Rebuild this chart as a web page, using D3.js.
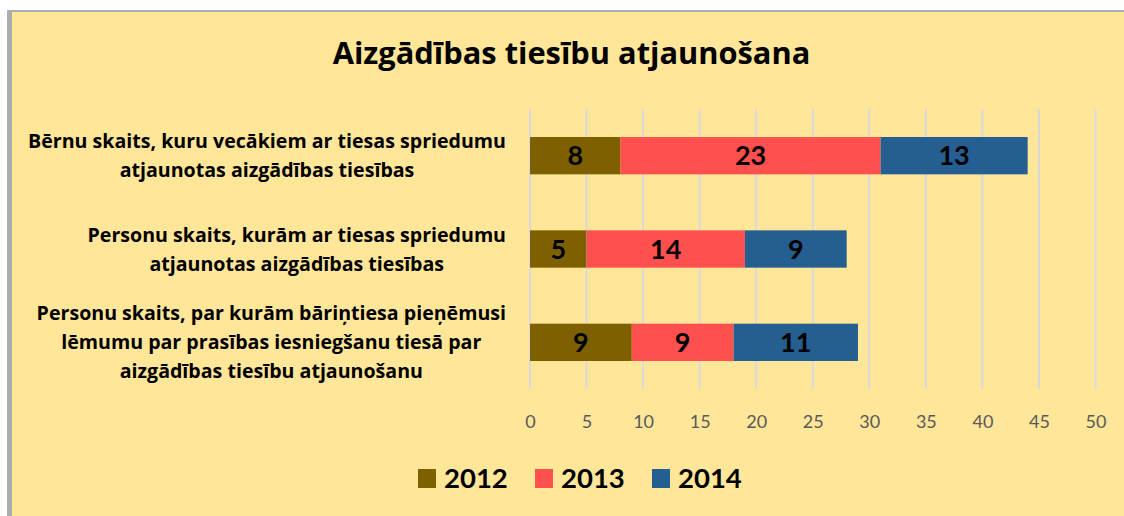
<!DOCTYPE html>
<html>
<head>
<meta charset="utf-8">
<script src="https://cdn.jsdelivr.net/npm/d3@7"></script>
<style>
  html, body { margin: 0; padding: 0; background: #ffffff; }
  svg { display: block; }
</style>
</head>
<body>
<script>
const title = "Aizgādības tiesību atjaunošana";
const categories = [
  ["Bērnu skaits, kuru vecākiem ar tiesas spriedumu", "atjaunotas aizgādības tiesības"],
  ["Personu skaits, kurām ar tiesas spriedumu", "atjaunotas aizgādības tiesības"],
  ["Personu skaits, par kurām bāriņtiesa pieņēmusi", "lēmumu par prasības iesniegšanu tiesā par", "aizgādības tiesību atjaunošanu"]
];
const seriesNames = ["2012", "2013", "2014"];
const values2012 = [8, 5, 9];
const values2013 = [23, 14, 9];
const values2014 = [13, 9, 11];
const xTicks = [0, 5, 10, 15, 20, 25, 30, 35, 40, 45, 50];
const colors = ["#7f6000", "#ff5050", "#255e91"];

const W = 1124, H = 516;
const font = "Lato, 'Open Sans', sans-serif";
const font2 = "'Open Sans', Lato, sans-serif";
const svg = d3.select("body").append("svg").attr("width", W).attr("height", H);

// frame
svg.append("rect").attr("x", 7).attr("y", 10).attr("width", W - 7).attr("height", H - 10).attr("fill", "#adadad");
svg.append("rect").attr("x", 12).attr("y", 12).attr("width", W - 12).attr("height", H - 12).attr("fill", "#ffe699");

svg.append("text").attr("x", 571.5).attr("y", 64).attr("text-anchor", "middle")
  .attr("font-family", font2).attr("font-weight", 700).attr("font-size", 30.8).attr("fill", "#000")
  .text(title);

const x = d3.scaleLinear().domain([0, 50]).range([530, 1095.5]);
const y = d3.scaleBand().domain(d3.range(categories.length)).range([109, 389]).paddingInner(0.6).paddingOuter(0.3);

// gridlines
svg.append("g").selectAll("line").data(xTicks).join("line")
  .attr("x1", d => x(d)).attr("x2", d => x(d)).attr("y1", 109).attr("y2", 389)
  .attr("stroke", "#d9d9d9").attr("stroke-width", 2);

// axis labels
const axis = d3.axisBottom(x).tickValues(xTicks).tickSize(0).tickPadding(0);
const ag = svg.append("g").attr("transform", "translate(0,428)").call(axis);
ag.select(".domain").remove();
ag.selectAll("text").attr("font-family", font).attr("font-size", 18).attr("fill", "#595959").attr("dy", 0);

const series = [values2012, values2013, values2014];
const stacked = categories.map((c, i) => {
  let acc = 0;
  return series.map((s, k) => { const d = {i, k, v: s[i], x0: acc, x1: acc + s[i]}; acc += s[i]; return d; });
}).flat();

const bars = svg.append("g");
bars.selectAll("rect").data(stacked).join("rect")
  .attr("x", d => x(d.x0)).attr("width", d => x(d.x1) - x(d.x0))
  .attr("y", d => y(d.i)).attr("height", y.bandwidth())
  .attr("fill", d => colors[d.k]);
bars.selectAll("text").data(stacked).join("text")
  .attr("x", d => (x(d.x0) + x(d.x1)) / 2).attr("y", d => y(d.i) + y.bandwidth() / 2)
  .attr("dy", "0.36em").attr("text-anchor", "middle")
  .attr("font-family", font).attr("font-weight", 700).attr("font-size", 27).attr("fill", "#000")
  .text(d => d.v);

// category labels
const lh = 29;
categories.forEach((lines, i) => {
  const g = svg.append("g");
  const cy = y(i) + y.bandwidth() / 2;
  const t = g.selectAll("text").data(lines).join("text")
    .attr("y", (d, j) => cy + (j - (lines.length - 1) / 2) * lh)
    .attr("dy", "0.36em").attr("text-anchor", "middle")
    .attr("font-family", font2).attr("font-weight", 700).attr("font-size", 19.6).attr("fill", "#000")
    .text(d => d);
  let maxW = 0;
  t.each(function() { maxW = Math.max(maxW, this.getComputedTextLength()); });
  t.attr("x", 506 - maxW / 2);
});

// legend
const legX = [418, 535, 652];
const lg = svg.append("g");
seriesNames.forEach((n, k) => {
  lg.append("rect").attr("x", legX[k]).attr("y", 469).attr("width", 18).attr("height", 19).attr("fill", colors[k]);
  lg.append("text").attr("x", legX[k] + 26).attr("y", 478.5).attr("dy", "0.36em")
    .attr("font-family", font).attr("font-weight", 700).attr("font-size", 27.5).attr("fill", "#000").text(n);
});
</script>
</body>
</html>
